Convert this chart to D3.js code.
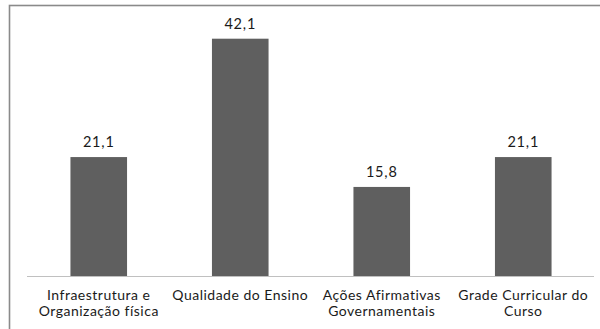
<!DOCTYPE html>
<html>
<head>
<meta charset="utf-8">
<script src="https://cdn.jsdelivr.net/npm/d3@7"></script>
<style>
  html, body { margin: 0; padding: 0; background: #fff; }
  svg { display: block; }
  text { font-family: Lato, "Open Sans", sans-serif; fill: #1a1a1a; }
</style>
</head>
<body>
<svg id="chart" width="600" height="329"></svg>
<script>
// Motivos apontados (%)
const categories = [
  ["Infraestrutura e", "Organização física"],
  ["Qualidade do Ensino"],
  ["Ações Afirmativas", "Governamentais"],
  ["Grade Curricular do", "Curso"]
];
const values = [21.1, 42.1, 15.8, 21.1];
const valueLabels = ["21,1", "42,1", "15,8", "21,1"];

const svg = d3.select("#chart");
const W = 600, H = 329;

// outer frame (only top and left edges are visible in the canvas)
svg.append("rect")
  .attr("x", 9.5).attr("y", 5.5)
  .attr("width", W + 20).attr("height", H + 20)
  .attr("fill", "#fff")
  .attr("stroke", "#8a8a8a")
  .attr("stroke-width", 1.6);

const x0 = 28, x1 = 594, baseY = 276, topY = 38.7;

const x = d3.scaleBand()
  .domain(d3.range(categories.length))
  .range([x0, x1])
  .paddingInner(0.6)
  .paddingOuter(0.3);

const y = d3.scaleLinear()
  .domain([0, 42.1])
  .range([baseY, topY]);

// bars
svg.selectAll("rect.bar")
  .data(values)
  .join("rect")
  .attr("class", "bar")
  .attr("x", (d, i) => x(i))
  .attr("y", d => y(d))
  .attr("width", x.bandwidth())
  .attr("height", d => y(0) - y(d))
  .attr("fill", "#5f5f5f");

// category axis
svg.append("line")
  .attr("x1", x0 - 1).attr("x2", x1)
  .attr("y1", baseY + 0.5).attr("y2", baseY + 0.5)
  .attr("stroke", "#c0c0c0")
  .attr("stroke-width", 1);

// value labels
svg.selectAll("text.val")
  .data(values)
  .join("text")
  .attr("class", "val")
  .attr("x", (d, i) => x(i) + x.bandwidth() / 2)
  .attr("y", d => y(d) - 10)
  .attr("text-anchor", "middle")
  .attr("font-size", 14.5)
  .attr("letter-spacing", 0.8)
  .text((d, i) => valueLabels[i]);

// category labels, one text per line
const lines = categories.flatMap((c, i) => c.map((t, j) => ({ i, j, t })));
svg.selectAll("text.cat")
  .data(lines)
  .join("text")
  .attr("class", "cat")
  .attr("text-anchor", "middle")
  .attr("font-size", 14)
  .attr("letter-spacing", 0.5)
  .attr("x", d => x(d.i) + x.bandwidth() / 2)
  .attr("y", d => 299.5 + d.j * 16.8)
  .text(d => d.t);
</script>
</body>
</html>
